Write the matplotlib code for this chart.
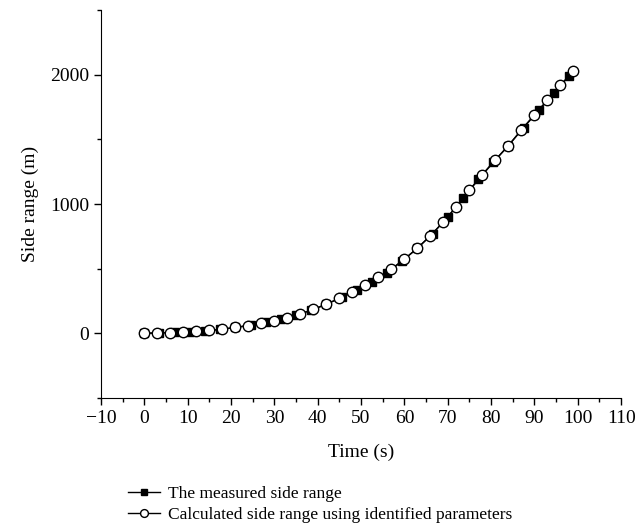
import numpy as np
import matplotlib
matplotlib.use('Agg')
import matplotlib.pyplot as plt
from matplotlib.ticker import MultipleLocator, FuncFormatter

# ── Data ─────────────────────────────────────────────────────────────────────
t_meas = [0, 3.5, 7, 10.5, 14, 17.5, 21, 24.5, 28, 31.5, 35, 38.5, 42, 45.5,
          49, 52.5, 56, 59.5, 63, 66.5, 70, 73.5, 77, 80.5, 84, 87.5, 91,
          94.5, 98]
range_meas = [0, 3, 7, 12, 19, 30, 45, 63, 85, 110, 140, 178, 225, 278,
              335, 398, 465, 560, 658, 770, 900, 1045, 1190, 1325, 1452,
              1590, 1725, 1858, 1990]

t_calc = [0, 3, 6, 9, 12, 15, 18, 21, 24, 27, 30, 33, 36, 39, 42, 45, 48,
          51, 54, 57, 60, 63, 66, 69, 72, 75, 78, 81, 84, 87, 90, 93, 96, 99]
range_calc = [0, 2, 6, 10, 15, 22, 32, 45, 60, 78, 98, 122, 150, 185, 225,
              270, 318, 372, 432, 498, 574, 658, 755, 862, 980, 1105, 1225,
              1340, 1452, 1575, 1690, 1805, 1920, 2030]

LABEL_MEAS = 'The measured side range'
LABEL_CALC = 'Calculated side range using identified parameters'

plt.rcParams['font.family'] = ['Liberation Serif', 'DejaVu Serif']

fig = plt.figure(figsize=(6.39, 5.32), dpi=100)
ax = fig.add_axes([0.158, 0.252, 0.814, 0.729])

ax.plot(t_meas, range_meas, '-', color='black', linewidth=1.0,
        marker='s', markersize=6, markerfacecolor='black',
        markeredgecolor='black', label=LABEL_MEAS, zorder=2)
ax.plot(t_calc, range_calc, '-', color='black', linewidth=1.0,
        marker='o', markersize=7.5, markerfacecolor='white',
        markeredgecolor='black', markeredgewidth=1.0,
        label=LABEL_CALC, zorder=3)

ax.set_xlim(-10, 110)
ax.set_ylim(-500, 2500)
ax.xaxis.set_major_locator(MultipleLocator(10))
ax.xaxis.set_minor_locator(MultipleLocator(5))
ax.yaxis.set_major_locator(MultipleLocator(1000))
ax.yaxis.set_minor_locator(MultipleLocator(500))
ax.xaxis.set_major_formatter(FuncFormatter(
    lambda v, p: f'{v:.0f}'.replace('-', '\u2212')))

for s in ('top', 'right'):
    ax.spines[s].set_visible(False)
ax.tick_params(which='major', direction='out', length=5, width=1,
               labelsize=14)
ax.tick_params(which='minor', direction='out', length=3, width=1)

ax.set_xlabel('Time (s)', fontsize=14, labelpad=12)
ax.set_ylabel('Side range (m)', fontsize=14, labelpad=8)

fig.legend(loc='upper left', bbox_to_anchor=(0.19, 0.10),
           frameon=False, fontsize=12.5, handlelength=1.8,
           handletextpad=0.5, labelspacing=0.3, markerscale=0.75,
           borderaxespad=0.0)

fig.savefig('out.png', dpi=100)
